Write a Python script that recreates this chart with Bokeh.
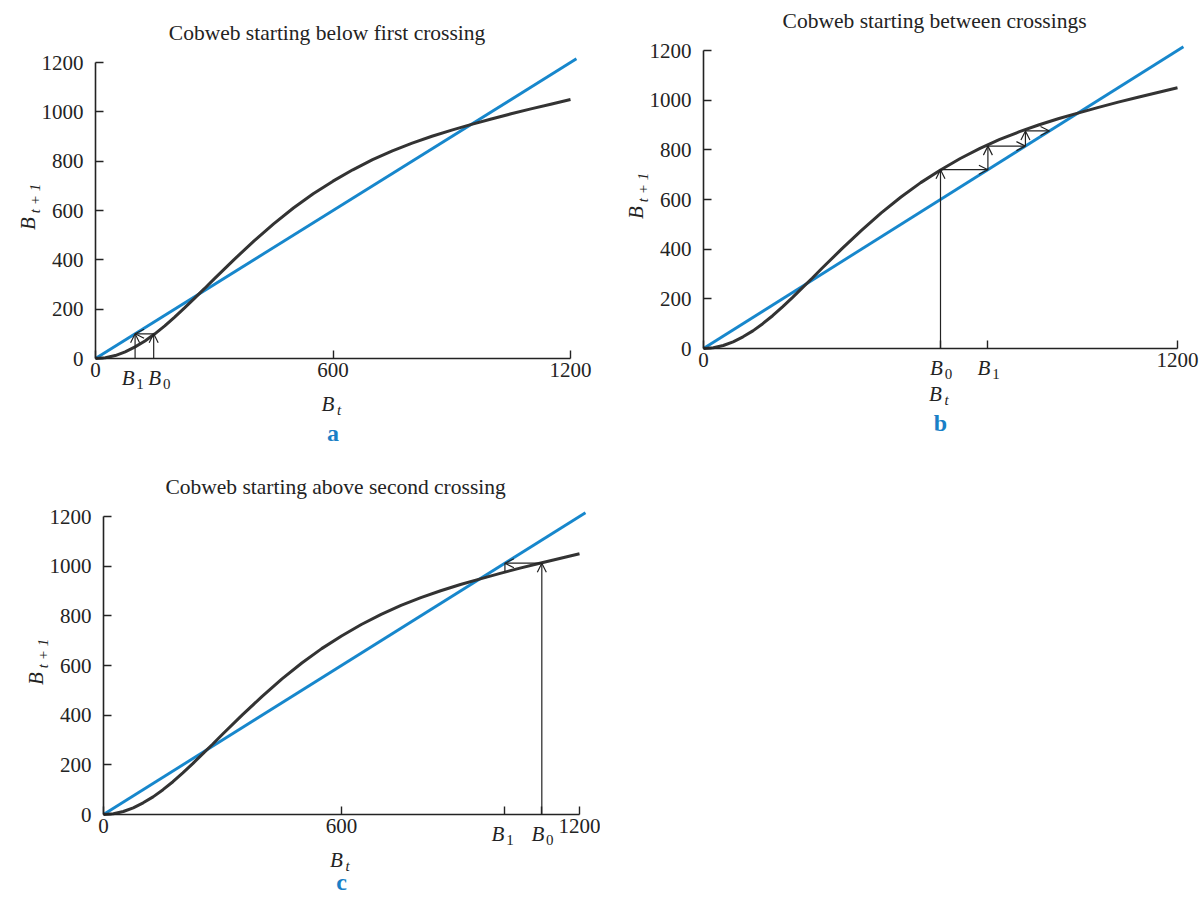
import math
from bokeh.plotting import figure
from bokeh.models import Label, Arrow, OpenHead, FixedTicker, Range1d, ColumnDataSource
from bokeh.layouts import column, row
from bokeh.embed import file_html
from bokeh.resources import INLINE

# ---- data ----
b_t = [0, 25, 50, 75, 100, 125, 150, 175, 200, 225, 250, 275, 300, 350, 400, 450,
       500, 550, 600, 650, 700, 750, 800, 850, 900, 950, 1000, 1050, 1100, 1150, 1200]
b_t1 = [0, 3, 12, 27, 47, 71, 100, 132, 168, 205, 244, 283, 323, 401, 476, 546,
        610, 668, 719, 765, 806, 842, 873, 901, 926, 949, 971, 992, 1012, 1031, 1050]
diag_x = [0, 1215]
diag_y = [0, 1215]
y_ticks = [0, 200, 400, 600, 800, 1000, 1200]

titles = ["Cobweb starting below first crossing",
          "Cobweb starting between crossings",
          "Cobweb starting above second crossing"]
letters = ["a", "b", "c"]
iter_a = [147, 100]
iter_b = [600, 720, 815, 876]
iter_c = [1105, 1012, 977]
num_ticks_a = [0, 600, 1200]
num_ticks_b = [0, 1200]
num_ticks_c = [0, 600, 1200]

# ---- style ----
SERIF = "Liberation Serif"
INK = "#232323"
BLUE = "#1787cc"
CURVE = "#333333"
LETTER = "#1a7fc6"


def base(w, h, ox, oy, sx, sy, xticks, blank):
    """ox, oy: pixel position of the data origin inside the figure (from top-left);
    sx, sy: pixels per data unit."""
    xr = Range1d(-ox / sx, (w - ox) / sx)
    yr = Range1d(-(h - oy) / sy, oy / sy)
    p = figure(width=w, height=h, x_range=xr, y_range=yr,
               output_backend="svg", toolbar_location=None,
               min_border_left=0, min_border_right=0, min_border_top=0, min_border_bottom=0)
    p.title.visible = False
    p.grid.visible = False
    p.outline_line_color = None
    p.background_fill_color = "white"
    p.border_fill_color = "white"
    for ax in (p.xaxis, p.yaxis):
        ax.fixed_location = 0
        ax.bounds = (0, 1200)
        ax.axis_line_color = INK
        ax.axis_line_width = 1.6
        ax.major_tick_line_color = INK
        ax.major_tick_line_width = 1.4
        ax.major_tick_in = 8
        ax.major_tick_out = 0
        ax.minor_tick_line_color = None
        ax.major_label_text_font = SERIF
        ax.major_label_text_font_size = "21px"
        ax.major_label_text_color = INK
    p.yaxis.ticker = FixedTicker(ticks=y_ticks)
    p.yaxis.major_label_standoff = 12
    p.xaxis.ticker = FixedTicker(ticks=xticks)
    p.xaxis.major_label_standoff = 4
    if blank:
        p.xaxis.major_label_overrides = {float(v): "" for v in blank}
    p.line(diag_x, diag_y, line_color=BLUE, line_width=2.9)
    p.line(b_t, b_t1, line_color=CURVE, line_width=3)
    return p


def lab(p, x, y, text, xo=0, yo=0, size="21px", style="normal", color=INK,
        angle=0.0, align="center"):
    p.add_layout(Label(x=x, y=y, x_offset=xo, y_offset=yo, text=text,
                       text_font=SERIF, text_font_size=size, text_font_style=style,
                       text_color=color, text_align=align, text_baseline="middle",
                       angle=angle))


def b_label(p, x, sub, shift=0):
    lab(p, x, 0, "B", xo=-4 + shift, yo=-19, style="italic")
    lab(p, x, 0, sub, xo=8 + shift, yo=-25, size="15px")


def decorate(p, title, letter, letter_yo=-74):
    lab(p, 585, 1200, title, yo=30, size="21.5px")
    lab(p, 600, 0, "B", xo=-5, yo=-45, style="italic")
    lab(p, 600, 0, "t", xo=6, yo=-51, size="15px", style="italic")
    lab(p, 0, 600, "B", xo=-68, yo=-13, style="italic", angle=math.pi / 2)
    lab(p, 0, 600, "t + 1", xo=-61, yo=12, size="15px", style="italic", angle=math.pi / 2)
    lab(p, 600, 0, letter, yo=letter_yo, size="24px", style="bold", color=LETTER)


def arrows(p, xs, ys, xe, ye, head=True):
    src = ColumnDataSource(dict(x0=xs, y0=ys, x1=xe, y1=ye))
    end = OpenHead(size=9, line_width=1.2, line_color=INK) if head else None
    p.add_layout(Arrow(source=src, x_start="x0", y_start="y0", x_end="x1", y_end="y1",
                       line_color=INK, line_width=1.2, end=end))


# ---- panel a ----
pa = base(600, 455, 95, 358, 475 / 1200, 296 / 1200, num_ticks_a, [])
decorate(pa, titles[0], letters[0])
a0, a1 = iter_a
arrows(pa, [a0, a0, a1], [0, a1, 0], [a0, a1, a1], [a1, a1, a1])
b_label(pa, a1, "1", shift=-3)
b_label(pa, a0, "0", shift=5)

# ---- panel b ----
pb = base(599, 455, 103, 348, 474 / 1200, 298 / 1200, num_ticks_b + iter_b[:2], iter_b[:2])
decorate(pb, titles[1], letters[1])
xs, ys, xe, ye = [iter_b[0]], [0], [iter_b[0]], [iter_b[1]]
for i in range(len(iter_b) - 1):
    xs.append(iter_b[i]); ys.append(iter_b[i + 1]); xe.append(iter_b[i + 1]); ye.append(iter_b[i + 1])
    if i + 2 < len(iter_b):
        xs.append(iter_b[i + 1]); ys.append(iter_b[i + 1]); xe.append(iter_b[i + 1]); ye.append(iter_b[i + 2])
arrows(pb, xs, ys, xe, ye)
b_label(pb, iter_b[0], "0")
b_label(pb, iter_b[1], "1")

# ---- panel c ----
pc = base(600, 443, 103, 359, 476 / 1200, 298 / 1200, num_ticks_c + iter_c[:2], iter_c[:2])
decorate(pc, titles[2], letters[2], letter_yo=-67)
c0, c1, c2 = iter_c
arrows(pc, [c0, c0], [0, c1], [c0, c1], [c1, c1])
arrows(pc, [c1], [c1], [c1], [c2], head=False)
b_label(pc, c1, "1", shift=-3)
b_label(pc, c0, "0")

layout = column(row(pa, pb), pc)
open("out.html", "w").write(file_html(layout, INLINE))
